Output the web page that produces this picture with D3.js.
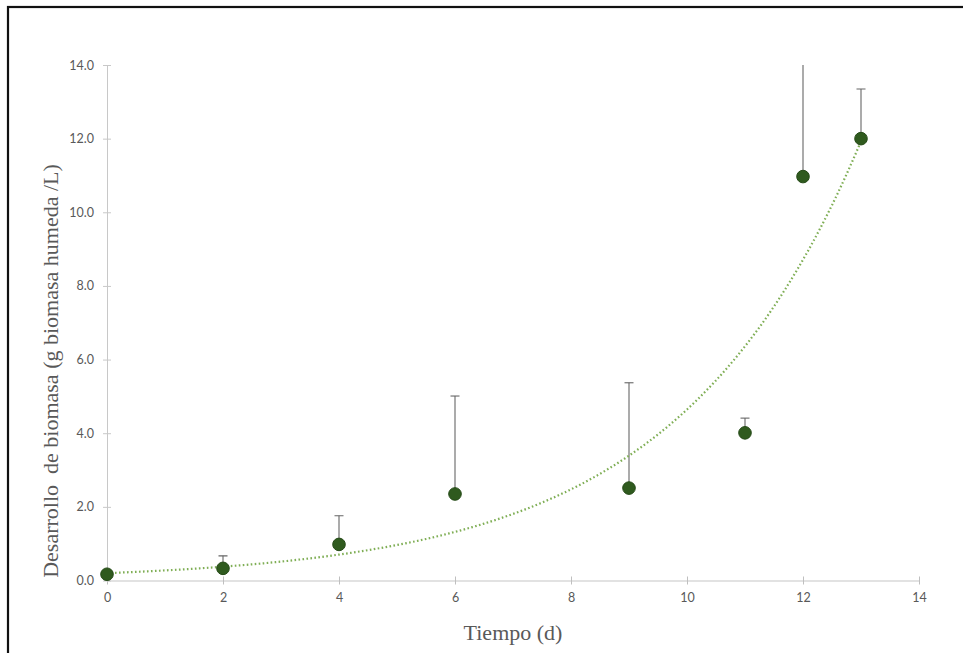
<!DOCTYPE html>
<html>
<head>
<meta charset="utf-8">
<script src="https://cdn.jsdelivr.net/npm/d3@7"></script>
<style>
  html, body { margin: 0; padding: 0; background: #fff; }
  svg { display: block; }
</style>
</head>
<body>
<svg id="chart" width="963" height="653"></svg>
<script>
// Biomass growth over time: mean values with upper error bars and an exponential trend
const days      = [0, 2, 4, 6, 9, 11, 12, 13];
const biomass   = [0.17, 0.33, 0.98, 2.35, 2.51, 4.01, 10.97, 12.0];
const errorPlus = [0.0, 0.34, 0.78, 2.66, 2.86, 0.40, 3.7, 1.35];

const xTicks = [0, 2, 4, 6, 8, 10, 12, 14];
const yTicks = [0, 2, 4, 6, 8, 10, 12, 14];

// exponential trendline y = a·e^(b·x)
const trendA = 0.2;
const trendB = 0.3145;

const svg = d3.select("#chart");
const W = 963, H = 653;

// frame around the figure (top and left edges visible)
svg.append("rect")
  .attr("x", 8).attr("y", 7)
  .attr("width", W).attr("height", H)
  .attr("fill", "none")
  .attr("stroke", "#111")
  .attr("stroke-width", 2.2);

const x = d3.scaleLinear().domain([0, 14]).range([107, 919]);
const y = d3.scaleLinear().domain([0, 14]).range([580.5, 65]);

const tickFont = "Lato, 'Open Sans', sans-serif";
const serif = "'Liberation Serif', 'DejaVu Serif', serif";

// x axis
const xAxis = svg.append("g")
  .attr("transform", `translate(0,${y(0)})`)
  .call(d3.axisBottom(x).tickValues(xTicks).tickFormat(d3.format("d")).tickSize(0).tickPadding(13));
xAxis.select(".domain").attr("stroke", "#d9d9d9").attr("stroke-width", 1.5);
xAxis.selectAll(".tick line").remove();
xAxis.selectAll(".tick").append("line")
  .attr("y1", -4).attr("y2", 4)
  .attr("stroke", "#bfbfbf").attr("stroke-width", 1);
xAxis.selectAll(".tick text")
  .attr("fill", "#595959").style("font-family", tickFont).style("font-size", "12.5px");

// y axis
const yAxis = svg.append("g")
  .attr("transform", `translate(${x(0)},0)`)
  .call(d3.axisLeft(y).tickValues(yTicks).tickFormat(d3.format(".1f")).tickSize(0).tickPadding(13));
yAxis.select(".domain").attr("stroke", "#c8c8c8").attr("stroke-width", 1);
yAxis.selectAll(".tick line").remove();
yAxis.selectAll(".tick").append("line")
  .attr("x1", -4).attr("x2", 4)
  .attr("stroke", "#c8c8c8").attr("stroke-width", 1);
yAxis.selectAll(".tick text")
  .attr("fill", "#595959").style("font-family", tickFont).style("font-size", "12.5px");

// clip region for marks
svg.append("clipPath").attr("id", "plotClip")
  .append("rect")
  .attr("x", x(0) - 10).attr("y", y(14))
  .attr("width", x(14) - x(0) + 20).attr("height", y(0) - y(14) + 10);

const plot = svg.append("g").attr("clip-path", "url(#plotClip)");

// error bars (upper only)
const points = days.map((d, i) => ({ d, v: biomass[i], e: errorPlus[i] }));
const bars = plot.selectAll("g.err").data(points.filter(p => p.e > 0)).join("g").attr("class", "err");
bars.append("line")
  .attr("x1", p => x(p.d)).attr("x2", p => x(p.d))
  .attr("y1", p => y(p.v)).attr("y2", p => y(p.v + p.e))
  .attr("stroke", "#666").attr("stroke-width", 1.1);
bars.append("line")
  .attr("x1", p => x(p.d) - 4.5).attr("x2", p => x(p.d) + 4.5)
  .attr("y1", p => y(p.v + p.e)).attr("y2", p => y(p.v + p.e))
  .attr("stroke", "#666").attr("stroke-width", 1.1);

// trendline
const trendX = d3.range(0, 13.001, 0.1);
const line = d3.line().x(t => x(t)).y(t => y(trendA * Math.exp(trendB * t))).curve(d3.curveLinear);
plot.append("path")
  .attr("d", line(trendX))
  .attr("fill", "none")
  .attr("stroke", "#7fae55")
  .attr("stroke-width", 2.2)
  .attr("stroke-dasharray", "1.6,2.4")
  .attr("stroke-linecap", "butt");

// data markers
plot.selectAll("circle.pt").data(points).join("circle")
  .attr("class", "pt")
  .attr("cx", p => x(p.d)).attr("cy", p => y(p.v))
  .attr("r", 6.3)
  .attr("fill", "#2f5a1e")
  .attr("stroke", "#254a17")
  .attr("stroke-width", 1);

// axis titles
svg.append("text")
  .attr("x", 513).attr("y", 640)
  .attr("text-anchor", "middle")
  .attr("fill", "#595959")
  .style("font-family", serif).style("font-size", "22px")
  .text("Tiempo (d)");

svg.append("text")
  .attr("transform", "translate(58,371) rotate(-90)")
  .attr("text-anchor", "middle")
  .attr("fill", "#595959")
  .attr("xml:space", "preserve")
  .style("white-space", "pre")
  .style("font-family", serif).style("font-size", "22px")
  .text("Desarrollo  de biomasa (g biomasa humeda /L)");
</script>
</body>
</html>
